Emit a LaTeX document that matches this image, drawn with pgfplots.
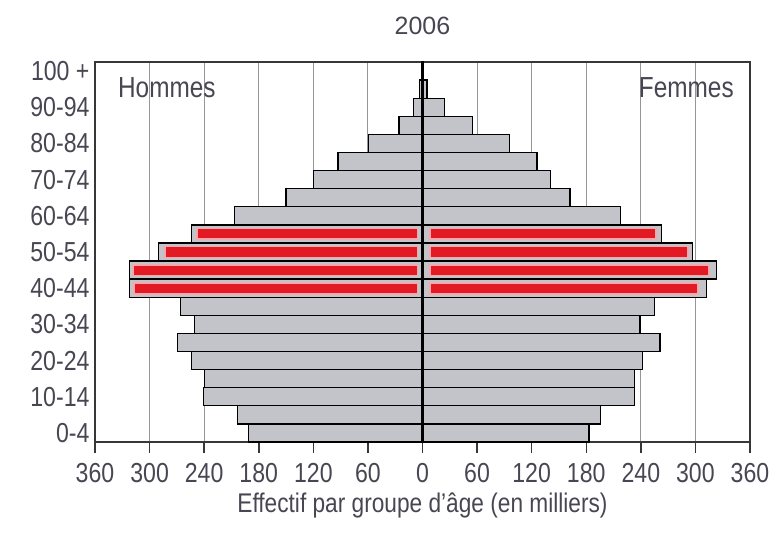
\documentclass[border=0pt]{standalone}
\usepackage{fontspec}
\setmainfont{Liberation Sans}[FakeStretch=0.84]
\newfontfamily\titlefont{Liberation Sans}
\usepackage{pgfplots}
\usepackage{pgfplotstable}
\pgfplotsset{compat=1.18}
\definecolor{txt}{RGB}{72,70,82}
\definecolor{barg}{RGB}{194,196,201}
\definecolor{redb}{RGB}{226,26,36}
\definecolor{pinkb}{RGB}{248,168,172}
\definecolor{gridg}{RGB}{150,150,150}
\definecolor{framec}{RGB}{55,55,55}

\pgfplotstableread{
age hom fem
0  -191 183
1  -203 196
2  -241 233
3  -240 233
4  -254 242
5  -269 261
6  -251 239
7  -266 255
8  -322 312
9  -322 323
10 -290 297
11 -254 263
12 -207 218
13 -150 162
14 -120 141
15 -93  126
16 -59  96
17 -26  55
18 -10  24
19 -3   5
20 -0.5 1
}\pyr

\pgfplotstableread{
age off len
8  -5.5 -311.5
9  -5.5 -312.5
10 -5.5 -277.5
11 -5.5 -242.5
}\redl

\pgfplotstableread{
age off len
8  8.5 294
9  8.5 306.5
10 8.5 283
11 8.5 248
}\redr

\pgfplotsset{common/.style={width=655pt,height=380pt,scale only axis,
  xmin=-360,xmax=360,ymin=-0.5,ymax=20.5}}

\begin{document}
\begin{tikzpicture}
\begin{axis}[common, name=ax, clip=false,
  bar width=1,
  axis line style={framec, line width=1.6pt},
  xtick={-360,-300,...,360},
  xticklabels={360,300,240,180,120,60,0,60,120,180,240,300,360},
  ytick={0,2,...,20},
  yticklabels={0-4,10-14,20-24,30-34,40-44,50-54,60-64,70-74,80-84,90-94,100 +},
  xtick pos=bottom, ytick pos=left,
  xtick align=outside, major tick length=11pt,
  xtick style={framec, line width=1.5pt},
  ytick style={draw=none},
  xmajorgrids, grid style={gridg, line width=1pt},
  /pgf/number format/assume math mode=true,
  tick label style={font=\fontsize{27.5}{30}\selectfont, text=txt},
  xticklabel style={yshift=-7pt},
  yticklabel style={xshift=-2pt},
  xlabel={Effectif par groupe d'âge (en milliers)},
  xlabel style={font=\fontsize{27}{30}\selectfont, text=txt, at={(rel axis cs:0.5,0)}, anchor=base, yshift=-70pt},
]
\addplot[xbar, bar shift=0pt, fill=barg, draw=black, line width=1.3pt] table[x=hom,y=age]{\pyr};
\addplot[xbar, bar shift=0pt, fill=barg, draw=black, line width=1.3pt] table[x=fem,y=age]{\pyr};
\node[font=\fontsize{29}{30}\selectfont, text=txt] at (axis cs:-281,19.06) {Hommes};
\node[font=\fontsize{29}{30}\selectfont, text=txt] at (axis cs:290,19.06) {Femmes};
\node[font=\titlefont\fontsize{25}{30}\selectfont, text=txt, anchor=base] at (rel axis cs:0.5,1) [yshift=27pt] {2006};
\end{axis}
\begin{axis}[common, hide axis, xbar stacked, bar width=0.6]
\addplot[draw=none, fill=none] table[x=off,y=age]{\redl};
\addplot[fill=redb, draw=pinkb, line width=1.8pt] table[x=len,y=age]{\redl};
\end{axis}
\begin{axis}[common, hide axis, xbar stacked, bar width=0.6]
\addplot[draw=none, fill=none] table[x=off,y=age]{\redr};
\addplot[fill=redb, draw=pinkb, line width=1.8pt] table[x=len,y=age]{\redr};
\end{axis}
\begin{axis}[common, hide axis]
\addplot[black, line width=2.2pt] coordinates {(0,-0.5) (0,20.5)};
\end{axis}
\path (ax.south west) ++(-95pt,-95pt) coordinate (bl);
\path (ax.north east) ++(29pt,62pt) coordinate (tr);
\pgfresetboundingbox
\useasboundingbox (bl) rectangle (tr);
\end{tikzpicture}
\end{document}
